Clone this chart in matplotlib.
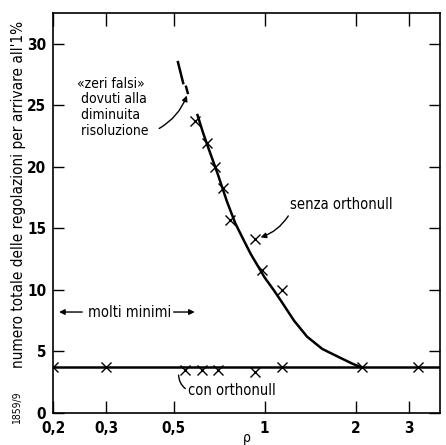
import matplotlib
matplotlib.use("Agg")
import matplotlib.pyplot as plt
from matplotlib.ticker import FixedLocator, NullLocator

plt.rcParams['font.family'] = ['DejaVu Sans']
plt.rcParams['font.stretch'] = 'condensed'

# data
x_ticks = [0.2, 0.3, 0.5, 1, 2, 3]
x_ticklabels = ["0,2", "0,3", "0,5", "1", "2", "3"]
y_ticks = [0, 5, 10, 15, 20, 25, 30]

senza_x = [0.589, 0.644, 0.686, 0.728, 0.768, 0.93, 0.98, 1.14]
senza_y = [23.7, 21.9, 20.0, 18.3, 15.7, 14.1, 11.6, 10.0]

curve_x = [0.60, 0.625, 0.65, 0.70, 0.75, 0.80, 0.85, 0.90, 1.0, 1.07, 1.14, 1.25, 1.38, 1.55, 1.77, 1.95, 2.09]
curve_y = [24.2, 22.8, 21.6, 19.4, 17.2, 15.4, 14.1, 12.9, 11.0, 10.0, 9.0, 7.5, 6.2, 5.2, 4.5, 4.0, 3.7]

con_level = 3.7
con_x = [0.2, 0.3, 0.546, 0.62, 0.70, 0.93, 1.14, 2.09, 3.2]
con_y = [3.7, 3.7, 3.5, 3.5, 3.5, 3.3, 3.7, 3.7, 3.7]

falsi_x = [[0.517, 0.538], [0.55, 0.557]]
falsi_y = [[28.5, 26.8], [26.5, 26.0]]

fig = plt.figure(figsize=(4.46, 4.45), dpi=100)
ax = fig.add_axes([0.119, 0.072, 0.868, 0.899])
ax.set_xscale('log')
ax.set_xlim(0.2, 3.8)
ax.set_ylim(0, 32.5)

ax.axhline(con_level, color='black', lw=1.8)
ax.plot(con_x, con_y, linestyle='none', marker='x', ms=7, mew=1.0, color='black')
ax.plot(curve_x, curve_y, color='black', lw=1.8)
ax.plot(senza_x, senza_y, linestyle='none', marker='x', ms=7, mew=1.0, color='black')
for fx, fy in zip(falsi_x, falsi_y):
    ax.plot(fx, fy, color='black', lw=1.8)

ax.xaxis.set_major_locator(FixedLocator(x_ticks))
ax.xaxis.set_minor_locator(NullLocator())
ax.set_xticklabels(x_ticklabels)
ax.set_yticks(y_ticks)
ax.tick_params(direction='in', length=9, width=1, top=True, right=True, labelsize=11)
ax.tick_params(axis='x', pad=6)
ax.tick_params(axis='y', length=8, pad=5)
for lab in ax.get_xticklabels() + ax.get_yticklabels():
    lab.set_fontweight('bold')
for s in ax.spines.values():
    s.set_linewidth(1.2)

ax.set_xlabel("ρ", fontsize=10, labelpad=-4)
ax.set_ylabel("numero totale delle regolazioni per arrivare all'1%", fontsize=11)
ax.yaxis.set_label_coords(-0.07, 0.545)
fig.text(0.038, 0.083, "1859/9", rotation=90, fontsize=7.5, ha='center', va='center')

# annotations
ax.text(0.24, 24.85, "«zeri falsi»\n dovuti alla\n diminuita\n risoluzione", fontsize=10,
        ha='left', va='center', linespacing=1.15)
ax.annotate("", xy=(0.557, 26.0), xytext=(0.44, 23.0),
            arrowprops=dict(arrowstyle='-|>', color='black', lw=1, mutation_scale=8,
                            connectionstyle='arc3,rad=0.2'))
ax.text(1.21, 16.9, "senza orthonull", fontsize=10.5, ha='left', va='center')
ax.annotate("", xy=(0.95, 14.2), xytext=(1.21, 16.2),
            arrowprops=dict(arrowstyle='-|>', color='black', lw=1, mutation_scale=8,
                            connectionstyle='arc3,rad=-0.2'))
ax.text(0.558, 1.85, "con orthonull", fontsize=10.5, ha='left', va='center')
ax.annotate("", xy=(0.52, 3.3), xytext=(0.556, 1.85),
            arrowprops=dict(arrowstyle='-', color='black', lw=1,
                            connectionstyle='arc3,rad=-0.3'))
ax.annotate("", xy=(0.205, 8.2), xytext=(0.255, 8.2),
            arrowprops=dict(arrowstyle='-|>', color='black', lw=1, mutation_scale=8))
ax.text(0.261, 8.2, "molti minimi", fontsize=10.5, ha='left', va='center')
ax.annotate("", xy=(0.60, 8.2), xytext=(0.49, 8.2),
            arrowprops=dict(arrowstyle='-|>', color='black', lw=1, mutation_scale=8))

fig.savefig("out.png", dpi=100)
